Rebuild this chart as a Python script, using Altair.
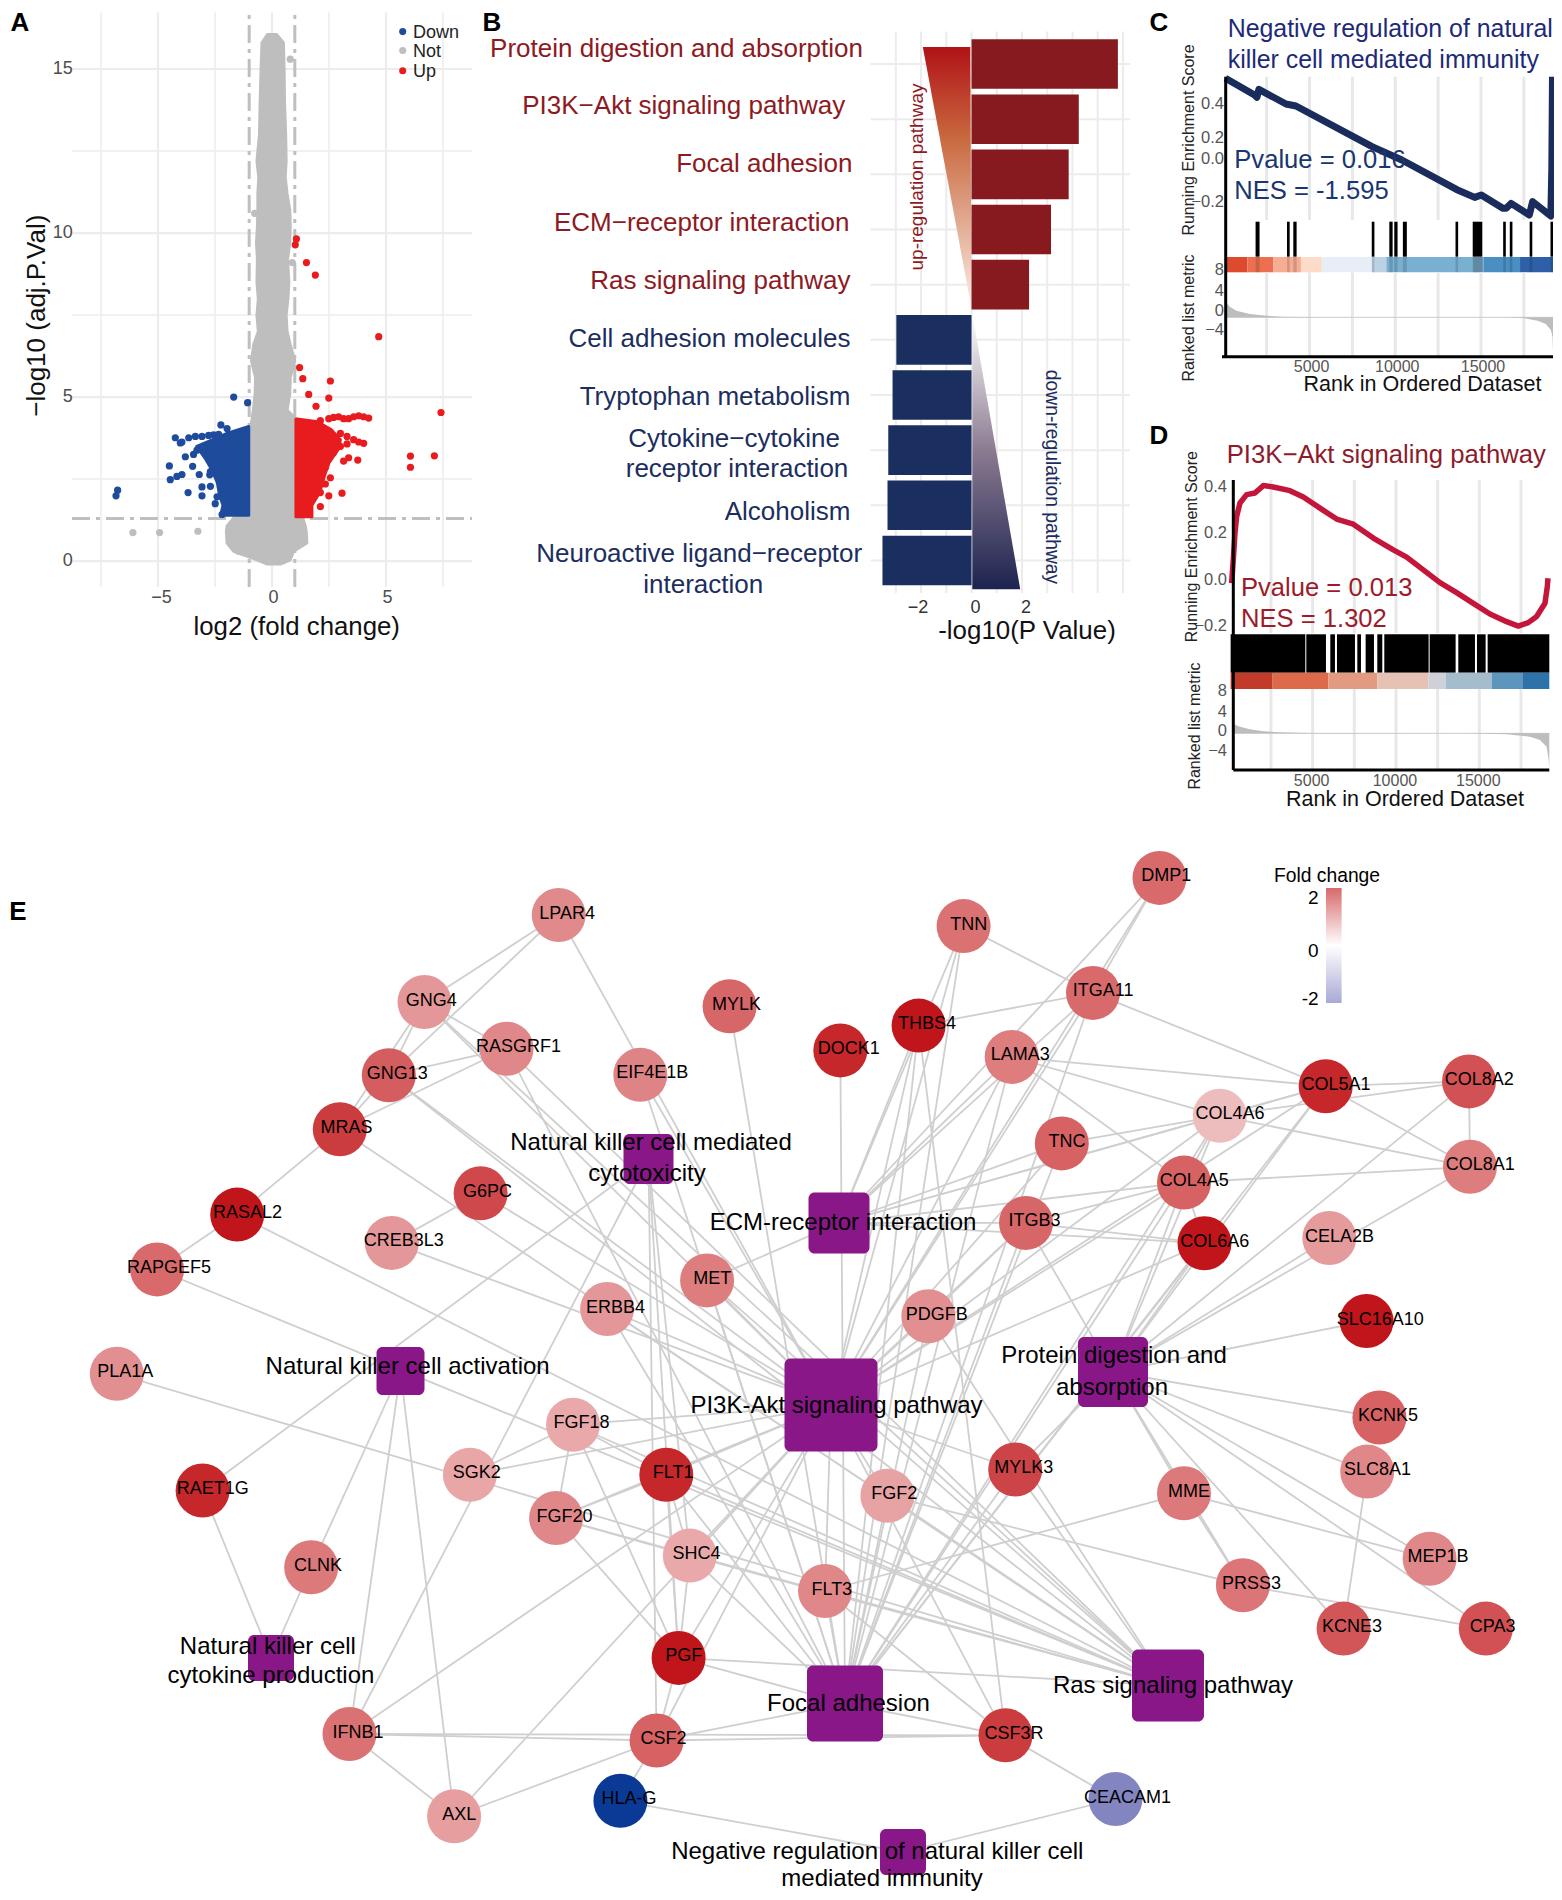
import altair as alt
import pandas as pd

W, H = 1546, 1884
FONT = "Liberation Sans"

# ---------- A: volcano ----------
grey_env_y = [16.05,15.8,15,14,13,12.2,11.7,11.2,10.7,10.2,9.7,9.2,8.5,8,7.5,7,6.6,6.1,5.6,5.1,4.6,4.3,4,3.5,1.5,1.3,1.07,.9,.55,.3,.04,-.09]
grey_env_l = [-.2,-.44,-.48,-.52,-.55,-.66,-.58,-.62,-.62,-.64,-.68,-.64,-.66,-.6,-.66,-.6,-.8,-.9,-.72,-.74,-.82,-.88,-1,-1,-1.05,-1.7,-1.97,-2,-1.97,-1.68,-.66,-.2]
grey_env_r = [.2,.5,.53,.55,.6,.62,.58,.66,.78,.8,.78,.68,.74,.7,.62,.66,.8,1.0,.8,.78,.66,1.1,1,1,1,1.35,1.46,1.5,1.53,.95,.8,.37]
blue_env_y = [1.4,1.7,2.0,2.4,2.8,3.1,3.4,3.5,3.7,3.9,4.1]
blue_env_l = [-2.25,-2.15,-2.3,-2.4,-2.65,-2.9,-3.2,-3.3,-2.6,-1.95,-1.05]
red_env_y = [1.35,1.7,2.1,2.6,3.0,3.4,3.7,4.0,4.25,4.33]
red_env_r = [1.75,1.75,2.1,2.3,2.5,2.9,3.0,2.6,2.0,1.1]
grey_x = [-.76,.89,.8,-6.1,-4.93,-3.25,-1.83,-1.86,-1.46]
grey_y = [10.6,9.1,15.3,.87,.87,.91,.96,.62,.3]
blue_x = [-1.68,-1.07,-2.24,-1.97,-4.24,-3.95,-3.65,-3.36,-3.07,-2.78,-2.56,-2.34,-4.02,-3.8,-3.44,-4.5,-3.48,-3.19,-3.95,-4.17,-4.46,-2.73,-3.07,-2.7,-3.68,-3.07,-2.41,-2.49,-1.97,-2.19,-6.77,-6.84,-3.29,-3,-2.7,-2.56]
blue_y = [5,4.83,4.15,4.04,3.76,3.63,3.76,3.8,3.8,3.83,3.85,3.86,3.6,3.18,3.25,2.9,2.89,2.64,2.64,2.58,2.48,2.63,2.26,2.28,2.09,1.99,1.96,1.75,1.64,1.42,2.16,1.99,3.38,3.44,2.73,3.12]
red_x = [2.49,2.7,2.92,3.14,3.36,3.58,3.8,4.02,4.24,2.12,3,3.29,3.58,3.8,4.02,3,3.29,2.7,3.14,3.36,3.76,2.49,2.56,2.34,2.49,3.07,2.12,2.34,2.12,1.07,1.02,1.51,1.9,4.68,1.21,1.35,2.56,1.61,2.49,1.93,7.41,6.07,7.12,6.07]
red_y = [4.34,4.38,4.4,4.34,4.34,4.4,4.43,4.4,4.36,4.28,3.89,3.8,3.7,3.63,3.59,3.5,3.57,3.31,3.05,3.15,3.08,3.12,2.54,2.86,1.99,2.07,1.66,2.35,2.09,9.82,9.64,9.1,8.72,6.84,5.9,5.56,5.49,5.08,4.97,4.72,4.53,3.2,3.21,2.86]

# ---------- B: bars ----------
up_values = [5.8,4.25,3.85,3.15,2.28]
down_values = [-2.98,-3.13,-3.3,-3.33,-3.53]

# ---------- C / D: GSEA ----------
c_es_rank = [97,1795,1930,2046,3629,4208,8649,10386,13571,14633,15019,16274,16467,16757,17819,18012,19073,19131,19170]
c_es = [.558,.455,.441,.49,.4,.388,.138,.056,-.125,-.174,-.159,-.241,-.241,-.211,-.282,-.2,-.289,.005,.568]
c_rug = [(1853,2085),(3687,3842),(4054,4247),(8629,8784),(9653,9846),(9942,10135),(10444,10676),(13514,13668),(14517,15077),(16293,16448),(16680,16834),(17838,17992),(19054,19200)]
c_strip = [97,1371,2896,4498,5714,8649,9479,14537,15154,17278,19200]
c_strip_colors = ["#dd4a2e","#ec7050","#f6ad94","#fcdcc8","#e8eef7","#bcd2e4","#79b0d2","#6fa0c0","#4a8fc3","#2f5fa8"]
c_metric_rank = [97,347,734,1506,2664,3436,4788,5946,16371,17529,18301,18784,19073,19170,19200]
c_metric = [3.13,2.13,1.33,.67,.27,.13,.07,0,0,-.2,-.67,-1.33,-2.53,-3.87,-6.87]
d_es_rank = [140,240,340,440,640,1040,1540,2040,2640,3640,4440,5440,6440,7440,8640,9840,10640,11640,12640,13640,14640,15640,16640,17340,17940,18440,18940,19080,19120]
d_es = [-.014,.086,.201,.273,.331,.367,.374,.406,.4,.384,.357,.309,.262,.24,.18,.129,.098,.043,-.012,-.055,-.101,-.147,-.18,-.199,-.184,-.158,-.101,-.029,.007]
d_rug = [(80,4560),(4620,5800),(6060,6340),(6460,7540),(7680,7900),(8180,8680),(8880,9180),(9300,11960),(12020,13580),(13740,14740),(14860,15380),(15500,19200)]
d_strip = [80,2600,5940,8880,11940,12980,15740,17580,19200]
d_strip_colors = ["#c13a2a","#dd6a4a","#e29a80","#e5c2b4","#cfd0d8","#a4bccb","#5d96bd","#2d72a8"]
d_metric_rank = [240,640,1240,2040,3040,4240,5240,14040,16640,18040,18640,19040,19160,19200]
d_metric = [1.87,1.33,.8,.4,.2,.13,.07,0,-.2,-.67,-1.33,-2.67,-5.33,-7]

# ---------- E: network ----------
genes = {
"LPAR4":(558.7,915,1.57),"GNG4":(424.5,1002,1.4),"RASGRF1":(506.6,1048.7,1.6),"MYLK":(729.6,1006.3,2.1),
"EIF4E1B":(640.3,1074.8,1.65),"GNG13":(388.8,1075.2,2.3),"MRAS":(339.8,1129.2,3.1),"RASAL2":(237.2,1214.6,4),
"G6PC":(480.6,1193.3,2.8),"CREB3L3":(391.8,1242.9,1.4),"RAPGEF5":(157.1,1269.4,2),"ERBB4":(607.1,1309,1.4),
"MET":(707.1,1280.4,1.75),"PLA1A":(116.8,1373.8,1.5),"RAET1G":(202.6,1490.5,3.6),"SGK2":(469.9,1474.7,1.2),
"FGF18":(573,1424.7,1.15),"FGF20":(556.1,1518,1.6),"FLT1":(666.3,1474.7,3.6),"CLNK":(311.2,1567.3,1.8),
"SHC4":(689.8,1555.6,1.15),"PGF":(678.6,1657.9,4),"IFNB1":(349.5,1734,1.9),"CSF2":(656.6,1740.5,2.2),
"AXL":(454.1,1816.3,1.3),"HLA-G":(620.4,1800.8,-5),"TNN":(963.6,926.1,1.9),"DMP1":(1159.5,877.9,2),
"ITGA11":(1093,992.9,2),"THBS4":(918.6,1025.6,4),"DOCK1":(840.3,1050.4,3.6),"LAMA3":(1011.7,1056.9,1.75),
"COL5A1":(1325.7,1086.2,3.6),"COL8A2":(1469,1081.4,2.6),"COL8A1":(1470,1166.8,1.75),"COL4A6":(1219.8,1115.8,.9),
"COL4A5":(1184,1182.6,2.2),"TNC":(1061.8,1143.4,2.2),"ITGB3":(1026,1222.9,2.1),"COL6A6":(1204.5,1243.2,4),
"CELA2B":(1329.3,1238,1.35),"PDGFB":(928.3,1316.2,1.5),"SLC16A10":(1366.6,1321,4),"KCNK5":(1379.4,1417.5,2.2),
"SLC8A1":(1367.2,1471.6,1.6),"MYLK3":(1015.2,1469.5,2.9),"FGF2":(887.4,1495.7,1.25),"MME":(1184,1493.3,1.8),
"MEP1B":(1429.6,1558.7,1.6),"PRSS3":(1242.9,1585.2,1.85),"FLT3":(825,1591,1.6),"KCNE3":(1343.6,1628.6,2.5),
"CPA3":(1485.8,1628.6,2.6),"CSF3R":(1005.5,1735.3,3.1),"CEACAM1":(1115.5,1799,-2),
}
pathways = {
"NKCYT":(648.5,1159,50),"ECM":(839,1223,61),"NKACT":(400.5,1371,48),"PI3K":(831,1405,93),"PROT":(1113,1372,70),
"NKPROD":(271,1658,46),"FOCAL":(845,1703.5,76),"RAS":(1168,1685.5,72),"NEG":(903,1852,46),
}
members = {
"ECM":["TNN","THBS4","LAMA3","ITGA11","ITGB3","TNC","COL4A5","COL4A6","COL5A1","COL6A6","DMP1"],
"FOCAL":["DOCK1","THBS4","TNN","TNC","LAMA3","ITGA11","ITGB3","COL4A5","COL4A6","COL5A1","COL6A6","PDGFB","MET","ERBB4","FLT1","FLT3","PGF","SHC4","MYLK","MYLK3","RASGRF1","EIF4E1B","FGF2","CSF2","CSF3R"],
"PI3K":["LPAR4","GNG4","GNG13","MET","ERBB4","FGF18","FGF20","FGF2","FLT1","FLT3","PGF","PDGFB","SHC4","G6PC","CREB3L3","THBS4","TNN","TNC","LAMA3","ITGA11","ITGB3","COL4A5","COL4A6","COL6A6","COL5A1","IFNB1","CSF2","CSF3R","EIF4E1B","DMP1","SGK2","AXL","MYLK3"],
"RAS":["GNG4","GNG13","RASGRF1","RASAL2","RAPGEF5","MRAS","MET","FGF18","FGF20","FGF2","FLT1","FLT3","PGF","PDGFB","SHC4","PLA1A","MYLK3","ERBB4"],
"PROT":["COL4A5","COL4A6","COL5A1","COL6A6","COL8A1","COL8A2","CELA2B","SLC16A10","KCNK5","SLC8A1","MEP1B","KCNE3","CPA3","MME","PRSS3","MYLK3","ITGB3"],
"NKCYT":["RAET1G","IFNB1","CSF2","SHC4","PGF"],
"NKACT":["CLNK","IFNB1","AXL"],
"NKPROD":["RAET1G","CLNK"],
"NEG":["HLA-G","CEACAM1"],
}
gene_links = [
("LPAR4","GNG4"),("LPAR4","GNG13"),("GNG4","GNG13"),("GNG4","MRAS"),("GNG4","RASGRF1"),("GNG13","RASGRF1"),("GNG13","MRAS"),
("MRAS","RASGRF1"),("MRAS","RASAL2"),("RASAL2","RAPGEF5"),("G6PC","CREB3L3"),("TNN","ITGA11"),("DMP1","ITGA11"),("THBS4","ITGA11"),
("COL8A2","COL8A1"),("COL5A1","COL8A2"),("COL4A6","COL5A1"),("COL4A6","COL8A1"),("COL4A6","COL8A2"),("COL4A5","COL8A1"),("COL5A1","COL8A1"),
("ITGA11","COL5A1"),("LAMA3","COL5A1"),("LAMA3","COL4A6"),("LAMA3","COL4A5"),("TNC","COL4A6"),("ITGB3","COL4A5"),("ITGB3","COL6A6"),
("COL4A5","COL6A6"),("COL4A6","COL4A5"),("SGK2","FGF18"),("FGF18","FGF20"),("FGF20","FLT1"),("FGF18","FLT1"),("FGF20","SHC4"),("FLT1","SHC4"),
("FGF20","PGF"),("FGF18","PGF"),("FLT1","PGF"),("SHC4","PGF"),("PGF","CSF2"),("CSF2","IFNB1"),("CSF2","CSF3R"),("IFNB1","CSF3R"),
("AXL","IFNB1"),("AXL","CSF2"),("HLA-G","CSF2"),("CSF3R","CEACAM1"),("SLC8A1","KCNE3"),("PRSS3","CPA3"),("MME","PRSS3"),("MME","MEP1B"),("MME","FLT3"),
("PRSS3","FGF2"),("CSF3R","THBS4"),("CSF3R","FLT3"),("MET","ECM"),("PDGFB","ITGB3"),
]
pathway_labels = [
("Natural killer cell mediated",651,1142.7),("cytotoxicity",647,1174),("ECM-receptor interaction",843,1223),
("Natural killer cell activation",407.6,1367),("PI3K-Akt signaling pathway",836.5,1405.5),("Protein digestion and",1114,1355.8),
("absorption",1112,1388),("Natural killer cell",267.9,1646.8),("cytokine production",271,1676),("Focal adhesion",848.5,1703.7),
("Ras signaling pathway",1173,1686),("Negative regulation of natural killer cell",877.3,1852),("mediated immunity",882,1878.5),
]

# ---------- helpers ----------
def sx(f, dom=(8, 8 + W), rng=(8, 8 + W)):
    return alt.X(f, type="quantitative", title=None, axis=None,
                 scale=alt.Scale(domain=list(dom), range=[rng[0] - 8, rng[1] - 8], nice=False, zero=False))

def sy(f, dom=(8, 8 + H), rng=(8, 8 + H)):
    return alt.Y(f, type="quantitative", title=None, axis=None,
                 scale=alt.Scale(domain=list(dom), range=[rng[0] - 8, rng[1] - 8], nice=False, zero=False))

def ann(rows, size, color="#000000", align="center", angle=0, weight="normal", shift=1):
    df = pd.DataFrame(rows, columns=["t", "x", "y"])
    df["y"] = df.y + shift
    return alt.Chart(df).mark_text(font=FONT, fontSize=size, color=color, align=align, baseline="middle",
                                   angle=angle, fontWeight=weight).encode(x=sx("x"), y=sy("y"), text="t:N")

def canvas_rule(x1, y1, x2, y2, color="#000000", width=3):
    df = pd.DataFrame({"x": [x1], "y": [y1], "x2": [x2], "y2": [y2]})
    return alt.Chart(df).mark_rule(color=color, strokeWidth=width).encode(x=sx("x"), y=sy("y"), x2="x2:Q", y2="y2:Q")

def xticks(vals, labels, xfn, y_img, size=18, color="#4d4d4d", dx=0):
    df = pd.DataFrame({"v": vals, "t": labels})
    return alt.Chart(df).mark_text(font=FONT, fontSize=size, color=color, baseline="middle", align="center", dx=dx).encode(
        x=xfn("v"), y=alt.value(y_img - 8), text="t:N")

def yticks(vals, labels, yfn, x_img, size=18, color="#4d4d4d"):
    df = pd.DataFrame({"v": vals, "t": labels})
    return alt.Chart(df).mark_text(font=FONT, fontSize=size, color=color, baseline="middle", align="right").encode(
        y=yfn("v"), x=alt.value(x_img - 8), text="t:N")

# ---------- panel A ----------
Ax, Ar = (-8.77, 8.77), (72, 472)
Ay, Ayr = (-0.79, 16.72), (587, 12.6)
def a_x(f): return sx(f, Ax, Ar)
def a_y(f): return sy(f, Ay, Ayr)

def a_vrules(vals, width, color="#ececec", dash=None):
    df = pd.DataFrame({"x": vals, "y": Ay[0], "y2": Ay[1]})
    kw = {"strokeDash": dash} if dash else {}
    return alt.Chart(df).mark_rule(color=color, strokeWidth=width, **kw).encode(x=a_x("x"), y=a_y("y"), y2="y2:Q")

def a_hrules(vals, width, color="#ececec", dash=None):
    df = pd.DataFrame({"y": vals, "x": Ax[0], "x2": Ax[1]})
    kw = {"strokeDash": dash} if dash else {}
    return alt.Chart(df).mark_rule(color=color, strokeWidth=width, **kw).encode(y=a_y("y"), x=a_x("x"), x2="x2:Q")

def a_area(y, l, r, color):
    df = pd.DataFrame({"y": y, "l": l, "r": r})
    return alt.Chart(df).mark_area(orient="horizontal", color=color, stroke=color, strokeWidth=3, strokeJoin="round",
                                   opacity=1).encode(y=a_y("y"), x=a_x("l"), x2="r:Q")

def a_pts(x, y, color):
    return alt.Chart(pd.DataFrame({"x": x, "y": y})).mark_circle(size=52, color=color, opacity=1).encode(x=a_x("x"), y=a_y("y"))

panel_a = alt.layer(
    a_vrules([-7.5, -2.5, 2.5, 7.5], 1.5), a_vrules([-5, 0, 5], 2.2),
    a_hrules([2.5, 7.5, 12.5], 1.5), a_hrules([0, 5, 10, 15], 2.2),
    a_vrules([-1, 1], 3, "#bfbfbf", [18, 6, 4, 6]), a_hrules([1.3], 3, "#bfbfbf", [18, 6, 4, 6]),
    a_area(grey_env_y, grey_env_l, grey_env_r, "#bebebe"),
    a_area(blue_env_y, blue_env_l, [-1.02] * len(blue_env_y), "#1f4b9d"),
    a_area(red_env_y, [1.05] * len(red_env_y), red_env_r, "#e81c1e"),
    a_pts(grey_x, grey_y, "#bebebe"), a_pts(blue_x, blue_y, "#1f4b9d"), a_pts(red_x, red_y, "#e81c1e"),
    xticks([-5], ["\u22125"], a_x, 598, dx=3.5),
    xticks([0, 5], ["0", "5"], a_x, 598, dx=1.5),
    yticks([0, 5, 10, 15], ["0", "5", "10", "15"], a_y, 72.7),
)

# ---------- panel B ----------
Bx, Bxr = (-4, 6.28), (870.6, 1130)
By, Byr = (0.41, 10.59), (31.5, 593)
def b_x(f): return sx(f, Bx, Bxr)
def b_y(f): return sy(f, By, Byr)
b_rows_v = pd.DataFrame({"x": list(range(-3, 7)), "y": By[0], "y2": By[1]})
b_rows_h = pd.DataFrame({"y": list(range(1, 11)), "x": Bx[0], "x2": Bx[1]})
bars = pd.DataFrame({"r": range(1, 11), "v": up_values + down_values, "g": ["up"] * 5 + ["down"] * 5})
bars["r1"] = bars.r - 0.45
bars["r2"] = bars.r + 0.45
up_tri = pd.DataFrame({"y": [0.69, 5.43], "l": [-1.93, 0.0], "r": [-0.05, 0.0]})
dn_tri = pd.DataFrame({"y": [5.53, 10.52], "l": [0.03, 0.03], "r": [0.03, 1.93]})
panel_b = alt.layer(
    alt.Chart(b_rows_v).mark_rule(color="#ececec", strokeWidth=2).encode(x=b_x("x"), y=b_y("y"), y2="y2:Q"),
    alt.Chart(b_rows_h).mark_rule(color="#ececec", strokeWidth=2).encode(y=b_y("y"), x=b_x("x"), x2="x2:Q"),
    alt.Chart(up_tri).mark_area(orient="horizontal", color=alt.Gradient(gradient="linear",
        stops=[alt.GradientStop(color="#b01217", offset=0), alt.GradientStop(color="#c9693f", offset=0.35),
               alt.GradientStop(color="#fbeee6", offset=1)], x1=0, x2=0, y1=0, y2=1)).encode(y=b_y("y"), x=b_x("l"), x2="r:Q"),
    alt.Chart(dn_tri).mark_area(orient="horizontal", color=alt.Gradient(gradient="linear",
        stops=[alt.GradientStop(color="#ffffff", offset=0), alt.GradientStop(color="#8a7a90", offset=0.5),
               alt.GradientStop(color="#1c2350", offset=1)], x1=0, x2=0, y1=0, y2=1)).encode(y=b_y("y"), x=b_x("l"), x2="r:Q"),
    alt.Chart(bars).mark_rect().encode(y=b_y("r1"), y2="r2:Q", x=b_x("v"), x2=alt.X2(datum=0),
        color=alt.Color("g:N", scale=alt.Scale(domain=["up", "down"], range=["#861a1e", "#1a2f5f"]), legend=None)),
    xticks([-2], ["\u22122"], b_x, 608, color="#333333", dx=-3),
    xticks([0, 2], ["0", "2"], b_x, 608, color="#333333", dx=4),
)

# ---------- panels C / D ----------
def gsea(cfg):
    xd, xr = (0, 19200), cfg["xr"]
    def gx(f): return sx(f, xd, xr)
    es_y = lambda f: sy(f, cfg["es_dom"], cfg["es_rng"])
    m_y = lambda f: sy(f, cfg["m_dom"], cfg["m_rng"])
    band_y = lambda f: sy(f, (0, 1), cfg["band_rng"])
    strip_y = lambda f: sy(f, (0, 1), cfg["strip_rng"])

    grid = [2500, 5000, 7500, 10000, 12500, 15000, 17500]
    g1 = pd.DataFrame({"x": grid, "y": cfg["es_dom"][0], "y2": cfg["es_dom"][1]})
    g2 = pd.DataFrame({"x": grid, "y": cfg["m_dom"][0], "y2": cfg["m_dom"][1]})
    es_df = pd.DataFrame({"x": cfg["es_x"], "y": cfg["es"]})
    rug = pd.DataFrame(cfg["rug"], columns=["a", "b"])
    rug["y"], rug["y2"] = 0, 1
    st = cfg["strip"]
    strip = pd.DataFrame({"a": st[:-1], "b": st[1:], "i": list(range(len(st) - 1)), "y": 0, "y2": 1})
    m_df = pd.DataFrame({"x": cfg["m_x"], "y": cfg["m"]})
    base = pd.DataFrame({"x": [cfg["m_x"][0]], "x2": [19200], "y": [0]})
    strip_layers = [alt.Chart(strip).mark_rect().encode(x=gx("a"), x2="b:Q", y=strip_y("y"), y2="y2:Q",
        color=alt.Color("i:O", scale=alt.Scale(domain=list(range(len(st) - 1)), range=cfg["strip_colors"]), legend=None))]
    if cfg["rug_through"]:
        strip_layers.append(alt.Chart(rug).mark_rect(color="#000000", opacity=0.14).encode(
            x=gx("a"), x2="b:Q", y=strip_y("y"), y2="y2:Q"))

    return [
        alt.layer(
            alt.Chart(g1).mark_rule(color="#e8e8e8", strokeWidth=3).encode(x=gx("x"), y=es_y("y"), y2="y2:Q"),
            alt.Chart(es_df).mark_line(color=cfg["line"], strokeWidth=cfg["lw"], strokeJoin="round").encode(x=gx("x"), y=es_y("y")),
            yticks(cfg["es_vals"], cfg["es_labs"], es_y, cfg["lab_x"], size=16.5, color="#555555"),
        ),
        alt.Chart(rug).mark_rect(color="#000000").encode(x=gx("a"), x2="b:Q", y=band_y("y"), y2="y2:Q"),
        alt.layer(*strip_layers),
        alt.layer(
            alt.Chart(g2).mark_rule(color="#e8e8e8", strokeWidth=3).encode(x=gx("x"), y=m_y("y"), y2="y2:Q"),
            alt.Chart(base).mark_rule(color="#cccccc", strokeWidth=1).encode(x=gx("x"), x2="x2:Q", y=m_y("y")),
            alt.Chart(m_df).mark_area(color="#bdbdbd").encode(x=gx("x"), y=m_y("y"), y2=alt.Y2(datum=0)),
            yticks(cfg["m_vals"], ["8", "4", "0", "\u22124"], m_y, cfg["lab_x"], size=16.5, color="#555555"),
            xticks([5000, 10000, 15000], ["5000", "10000", "15000"], gx, cfg["tick_y"], size=16, color="#555555", dx=cfg["tick_dx"]),
        ),
    ]

es_labs = ["0.4", "0.2", "0.0", "\u22120.2"]
panel_c = gsea(dict(
    xr=(1223.8, 1553), es_dom=(-.313, .568), es_rng=(220, 76.7), m_dom=(-7.87, 9), m_rng=(356.7, 272.3),
    band_rng=(221.7, 256.7), strip_rng=(257, 272.3), es_x=c_es_rank, es=c_es, rug=c_rug, strip=c_strip,
    strip_colors=c_strip_colors, m_x=c_metric_rank, m=c_metric, line="#1a2c5b", lw=7, lab_x=1224, tick_y=366.5, tick_dx=2,
    es_vals=[.4, .189, .06, -.2], es_labs=es_labs, m_vals=[9.47, 5.33, 1.33, -2.53], rug_through=True,
))
panel_d = gsea(dict(
    xr=(1229.3, 1549.3), es_dom=(-.23, .43), es_rng=(633.3, 480), m_dom=(-7.33, 8.87), m_rng=(770, 689),
    band_rng=(634.3, 672.7), strip_rng=(672.7, 689), es_x=d_es_rank, es=d_es, rug=d_rug, strip=d_strip,
    strip_colors=d_strip_colors, m_x=d_metric_rank, m=d_metric, line="#c4163a", lw=5.5, lab_x=1227, tick_y=781, tick_dx=-1,
    es_vals=[.4, .2, 0, -.2], es_labs=es_labs, m_vals=[8.53, 4.33, .47, -3.53], rug_through=False,
))

# ---------- panel E + all free text ----------
pos = {k: v[:2] for k, v in genes.items()}
pos.update({k: v[:2] for k, v in pathways.items()})
edge_rows = []
for p, gs in members.items():
    for g in gs:
        edge_rows.append((pos[p][0], pos[p][1], pos[g][0], pos[g][1]))
for a, b in gene_links:
    edge_rows.append((pos[a][0], pos[a][1], pos[b][0], pos[b][1]))
edges = pd.DataFrame(edge_rows, columns=["x", "y", "x2", "y2"])
node_df = pd.DataFrame([(k, *v) for k, v in genes.items()], columns=["t", "x", "y", "fc"])
node_df["lx"] = node_df.x + 1.7 * node_df.t.str.len()
node_df["ly"] = node_df.y - 1.5
sq_df = pd.DataFrame([(k, c[0] - c[2] / 2, c[0] + c[2] / 2, c[1] - c[2] / 2, c[1] + c[2] / 2) for k, c in pathways.items()],
                     columns=["t", "x", "x2", "y", "y2"])
fc_scale = alt.Scale(domain=[-5, -2, 0, 2, 4], range=["#0b3a96", "#8285c0", "#ffffff", "#d86a6c", "#c0161b"], interpolate="rgb")

legend_bar = pd.DataFrame({"x": [1326], "x2": [1341.6], "y": [887.9], "y2": [1003]})
a_legend = pd.DataFrame({"x": [402.7, 402.7, 402.7], "y": [31.6, 50.5, 70.7], "g": ["Down", "Not", "Up"]})

canvas = alt.layer(
    alt.Chart(edges).mark_rule(color="#cfcfcf", strokeWidth=1.8).encode(x=sx("x"), y=sy("y"), x2="x2:Q", y2="y2:Q"),
    alt.Chart(sq_df).mark_rect(color="#8a1788", cornerRadius=6).encode(x=sx("x"), x2="x2:Q", y=sy("y"), y2="y2:Q"),
    alt.Chart(node_df).mark_circle(size=2916, opacity=1).encode(x=sx("x"), y=sy("y"),
        color=alt.Color("fc:Q", scale=fc_scale, legend=None)),
    alt.Chart(node_df).mark_text(font=FONT, fontSize=18, color="#000000", baseline="middle").encode(
        x=sx("lx"), y=sy("ly"), text="t:N"),
    ann(pathway_labels, 24, shift=0),
    alt.Chart(legend_bar).mark_rect(color=alt.Gradient(gradient="linear",
        stops=[alt.GradientStop(color="#d8686a", offset=0), alt.GradientStop(color="#ffffff", offset=0.5),
               alt.GradientStop(color="#a9a9d6", offset=1)], x1=0, x2=0, y1=0, y2=1)).encode(
        x=sx("x"), x2="x2:Q", y=sy("y"), y2="y2:Q"),
    ann([("Fold change", 1327, 874.8)], 19.3),
    ann([("2", 1318.6, 897), ("0", 1318.6, 950), ("-2", 1318.6, 997.7)], 19, align="right"),
    # panel letters
    ann([("A", 20, 23), ("B", 492, 23), ("C", 1159, 23), ("D", 1159, 436), ("E", 18, 912)], 26, weight="bold", shift=0),
    # panel A text
    ann([("log2 (fold change)", 296.7, 626.3)], 25.8, "#111111"),
    ann([("\u2212log10 (adj.P.Val)", 37.3, 315.7)], 26, "#111111", angle=270, shift=0),
    alt.Chart(a_legend).mark_circle(size=50, opacity=1).encode(x=sx("x"), y=sy("y"),
        color=alt.Color("g:N", scale=alt.Scale(domain=["Down", "Not", "Up"], range=["#1f4b9d", "#bebebe", "#e81c1e"]), legend=None)),
    ann([("Down", 413, 31.6), ("Not", 413, 50.5), ("Up", 413, 70.7)], 18, "#222222", align="left"),
    # panel B text
    ann([("Protein digestion and absorption", 863, 47.5), ("PI3K\u2212Akt signaling pathway", 845.3, 105.2),
         ("Focal adhesion", 852.5, 163.3), ("ECM\u2212receptor interaction", 849.5, 221.8), ("Ras signaling pathway", 850.4, 280)],
        26, "#8d1a1f", align="right"),
    ann([("Cell adhesion molecules", 850.4, 337.5), ("Tryptophan metabolism", 850.4, 395.6), ("Cytokine\u2212cytokine", 839.9, 437.7),
         ("receptor interaction", 848.3, 468.4), ("Alcoholism", 850.4, 511), ("Neuroactive ligand\u2212receptor", 862.2, 553),
         ("interaction", 763.2, 584.2)], 26, "#1b2e5e", align="right"),
    ann([("up-regulation pathway", 916.5, 177)], 19, "#8d1a1f", angle=270, shift=0),
    ann([("down-regulation pathway", 1052.4, 477)], 19.3, "#1b2e5e", angle=90, shift=0),
    ann([("-log10(P Value)", 1027, 630)], 25.9, "#111111"),
    # panel C text
    ann([("Negative regulation of natural", 1227.7, 29), ("killer cell mediated immunity", 1227.7, 60)], 24.9, "#1e2a78", align="left"),
    ann([("Pvalue = 0.016", 1234.3, 159), ("NES = -1.595", 1234.3, 190)], 25.6, "#1a3670", align="left"),
    ann([("Running Enrichment Score", 1189, 140), ("Ranked list metric", 1189, 318)], 16, "#222222", angle=270, shift=0),
    ann([("Rank in Ordered Dataset", 1422.5, 384)], 21.5, "#111111"),
    canvas_rule(1225.7, 76.7, 1225.7, 356.7),
    canvas_rule(1222, 356.7, 1553, 356.7),
    # panel D text
    ann([("PI3K\u2212Akt signaling pathway", 1226.7, 454)], 25.7, "#8d1b2b", align="left"),
    ann([("Pvalue = 0.013", 1241, 587.3), ("NES = 1.302", 1241, 618.3)], 25.6, "#9d1b2b", align="left"),
    ann([("Running Enrichment Score", 1191.7, 546.7), ("Ranked list metric", 1195, 726)], 16, "#222222", angle=270, shift=0),
    ann([("Rank in Ordered Dataset", 1405, 798.5)], 21.5, "#111111"),
    canvas_rule(1233.3, 480, 1233.3, 770),
    canvas_rule(1233.3, 770, 1549.3, 770),
)

chart = alt.layer(panel_a, panel_b, *panel_c, *panel_d, canvas).resolve_scale(
    x="independent", y="independent", color="independent"
).properties(width=W, height=H, padding=0, autosize=alt.AutoSizeParams(type="none")).configure_view(stroke=None)

chart.save("out.html", embed_options={"renderer": "svg", "actions": False})
